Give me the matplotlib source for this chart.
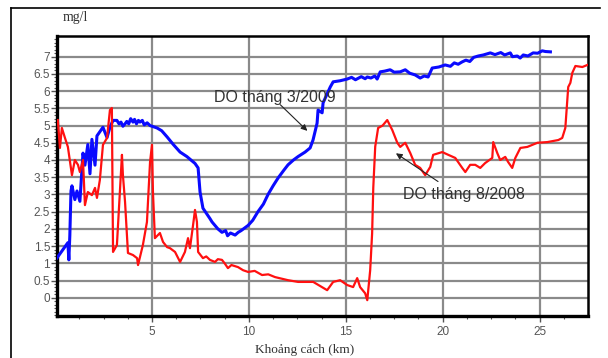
# -*- coding: utf-8 -*-
# DO doc theo khoang cach - 2 dot do
import numpy as np
import matplotlib
matplotlib.use('Agg')
from matplotlib import pyplot as plt
from matplotlib.lines import Line2D

# DO thang 3/2009 (blue)
km_mar = [0.09, 0.66, 0.71, 0.76, 0.82, 0.87, 1.02, 1.13, 1.28, 1.44, 1.54, 1.69, 1.80,
          1.90, 2.06, 2.16, 2.47, 2.68, 2.83, 2.99, 3.19, 3.30, 3.40, 3.50, 3.61, 3.70,
          3.80, 3.90, 4.02, 4.10, 4.20, 4.30, 4.38, 4.50, 4.60, 4.75, 4.90, 5.26, 5.50,
          5.78, 6.10, 6.45, 6.80, 7.22, 7.38, 7.48, 7.63, 7.99, 8.10, 8.40, 8.61, 8.80,
          8.90, 9.05, 9.29, 9.45, 9.60, 9.96, 10.20, 10.47, 10.75, 10.99, 11.25, 11.51,
          11.80, 12.02, 12.30, 12.54, 12.90, 13.16, 13.31, 13.52, 13.57, 13.78, 13.83,
          14.20, 14.35, 14.70, 15.07, 15.30, 15.50, 15.80, 16.00, 16.11, 16.30, 16.50,
          16.62, 16.78, 17.00, 17.29, 17.50, 17.81, 18.07, 18.30, 18.58, 18.84, 19.05,
          19.25, 19.46, 19.80, 20.13, 20.40, 20.60, 20.80, 21.01, 21.20, 21.40, 21.60,
          21.84, 22.10, 22.46, 22.70, 23.00, 23.20, 23.49, 23.60, 23.85, 24.00, 24.16,
          24.40, 24.67, 24.90, 25.14, 25.30, 25.56]
do_mar = [1.15, 1.60, 1.10, 1.80, 3.10, 3.25, 2.85, 3.10, 2.80, 4.20, 3.85, 4.45, 3.60,
          4.60, 3.85, 4.70, 4.95, 4.65, 4.95, 5.15, 5.15, 5.05, 5.10, 4.98, 5.05, 5.12,
          5.05, 5.20, 5.10, 5.18, 5.05, 5.15, 5.10, 5.15, 5.02, 5.08, 5.00, 4.93, 4.85,
          4.67, 4.45, 4.23, 4.10, 3.90, 3.77, 3.07, 2.60, 2.30, 2.20, 2.00, 1.90, 1.95,
          1.80, 1.88, 1.82, 1.90, 1.95, 2.10, 2.25, 2.50, 2.72, 3.00, 3.25, 3.48,
          3.70, 3.86, 4.00, 4.10, 4.23, 4.35, 4.58, 5.07, 5.45, 5.37, 5.66,
          6.12, 6.27, 6.30, 6.35, 6.40, 6.33, 6.42, 6.36, 6.41, 6.38, 6.44,
          6.35, 6.56, 6.58, 6.62, 6.55, 6.56, 6.62, 6.52, 6.47, 6.38, 6.44,
          6.41, 6.67, 6.70, 6.76, 6.72, 6.82, 6.78, 6.85, 6.90, 6.86, 6.98,
          7.02, 7.05, 7.11, 7.06, 7.12, 7.05, 7.11, 7.00, 7.02, 6.96, 7.05,
          7.02, 7.11, 7.10, 7.17, 7.15, 7.14]

# DO thang 8/2008 (red)
km_aug = [0.14, 0.25, 0.35, 0.51, 0.66, 0.87, 1.02, 1.18, 1.28, 1.44, 1.54, 1.69, 1.90,
          2.06, 2.16, 2.31, 2.47, 2.68, 2.83, 2.93, 2.99, 3.19, 3.45, 3.50, 3.61, 3.76,
          4.02, 4.23, 4.28, 4.53, 4.74, 4.90, 5.00, 5.05, 5.15, 5.41, 5.57, 5.78, 5.93,
          6.19, 6.45, 6.70, 6.86, 6.96, 7.12, 7.22, 7.32, 7.38, 7.63, 7.80, 7.99, 8.25,
          8.40, 8.61, 8.75, 8.92, 9.10, 9.44, 9.70, 9.96, 10.30, 10.68, 11.00, 11.35,
          12.02, 12.54, 13.32, 14.04, 14.35, 14.71, 15.07, 15.38, 15.59, 15.74, 16.00,
          16.11, 16.16, 16.26, 16.36, 16.42, 16.52, 16.67, 16.90, 17.14, 17.40, 17.66,
          17.81, 18.07, 18.33, 18.58, 18.84, 19.10, 19.36, 19.51, 19.98, 20.29, 20.65,
          21.01, 21.17, 21.42, 21.68, 21.94, 22.19, 22.56, 22.61, 22.82, 22.97, 23.23,
          23.38, 23.59, 23.75, 24.01, 24.37, 24.89, 25.40, 25.97, 26.17, 26.33, 26.48,
          26.59, 26.69, 26.85, 27.21, 27.47]
do_aug = [5.16, 4.35, 4.93, 4.64, 4.38, 3.56, 4.00, 3.86, 3.65, 4.00, 2.69, 3.07, 2.98,
          3.19, 2.90, 3.42, 4.44, 4.64, 5.45, 5.51, 1.33, 1.53, 4.15, 3.56, 2.78, 1.30,
          1.24, 1.15, 0.95, 1.53, 2.20, 3.94, 4.44, 3.07, 1.73, 1.88, 1.62, 1.47, 1.44,
          1.33, 1.04, 1.33, 1.73, 1.44, 2.11, 2.55, 2.20, 1.33, 1.15, 1.20, 1.10, 1.04,
          1.12, 1.10, 1.00, 0.86, 0.95, 0.89, 0.80, 0.75, 0.78, 0.66, 0.68, 0.60,
          0.51, 0.46, 0.46, 0.22, 0.46, 0.51, 0.37, 0.31, 0.57, 0.31, 0.13,
          -0.07, 0.22, 0.80, 1.87, 3.20, 4.39, 4.93, 5.00, 5.16, 4.87, 4.50,
          4.38, 4.50, 4.20, 3.86, 3.77, 3.56, 3.80, 4.15, 4.23, 4.15, 4.06,
          3.77, 3.65, 3.86, 3.86, 3.77, 3.91, 4.06, 4.52, 4.20, 4.00, 4.09,
          3.94, 3.77, 4.06, 4.35, 4.38, 4.50, 4.52, 4.58, 4.64, 4.93, 6.12,
          6.24, 6.53, 6.73, 6.70, 6.76]

x_major = [5, 10, 15, 20, 25]
y_major = np.arange(0, 7.01, 0.5)
y_labels = ['0', '0.5', '1', '1.5', '2', '2.5', '3', '3.5', '4', '4.5', '5', '5.5', '6', '6.5', '7']

fig = plt.figure(figsize=(6.08, 3.58), dpi=100)
ax = fig.add_axes([0.0938, 0.1173, 0.8733, 0.7821])

# khung ngoai
fig.add_artist(Line2D([11/608, 600/608], [1-8/358, 1-8/358], color='black', lw=1.2, transform=fig.transFigure))
fig.add_artist(Line2D([11/608, 11/608], [0, 1-8/358], color='black', lw=1.2, transform=fig.transFigure))

ax.plot(km_mar, do_mar, color='#0a0aff', lw=2.2, zorder=3)
ax.plot(km_aug, do_aug, color='#ff1010', lw=1.6, zorder=3)

ax.set_xlim(0.1, 27.5)
ax.set_ylim(-0.53, 7.6)

ax.set_xticks(x_major)
ax.set_xticks(np.arange(1.25, 27.5, 1.25), minor=True)
ax.set_yticks(y_major)
ax.set_yticklabels(y_labels)
ax.set_yticks(np.arange(-0.5, 7.6, 0.1), minor=True)

for y in y_major:
    ax.axhline(y, color='#8a8a8a', lw=1.6, zorder=1)
for x in x_major:
    ax.axvline(x, color='#8a8a8a', lw=1.6, zorder=1)

ax.tick_params(axis='both', which='major', labelsize=8.5, labelcolor='#555555', color='#555555', length=4, width=1)
ax.tick_params(axis='both', which='minor', color='#555555', length=2, width=0.8)
ax.tick_params(axis='y', pad=1)
ax.tick_params(axis='x', pad=3)
for lbl in ax.get_xticklabels() + ax.get_yticklabels():
    lbl.set_family('Liberation Sans')

for side in ['left', 'bottom']:
    ax.spines[side].set_linewidth(2.4)
for side in ['top', 'right']:
    ax.spines[side].set_linewidth(1.8)

# nhan
fig.text(75/608, 1-18/358, 'mg/l', family='Liberation Serif', fontsize=10, ha='center', va='center', color='#333333')
fig.text(305/608, 1-350/358, 'Khoảng cách (km)', family='Liberation Serif', fontsize=9.5, ha='center', va='center', color='#333333')

ax.text(8.21, 5.81, 'DO tháng 3/2009', family='Liberation Sans', fontsize=11.5, color='#333333', ha='left', va='center', zorder=4)
ax.annotate('', xy=(13.12, 4.79), xytext=(11.52, 5.66),
            arrowprops=dict(arrowstyle='-|>', color='#222222', lw=0.8, mutation_scale=9), zorder=4)
ax.text(17.96, 3.01, 'DO tháng 8/2008', family='Liberation Sans', fontsize=11.5, color='#333333', ha='left', va='center', zorder=4)
ax.annotate('', xy=(17.47, 4.24), xytext=(19.88, 3.33),
            arrowprops=dict(arrowstyle='-|>', color='#222222', lw=0.8, mutation_scale=9), zorder=4)

plt.savefig('out.png', dpi=100)
plt.close()
